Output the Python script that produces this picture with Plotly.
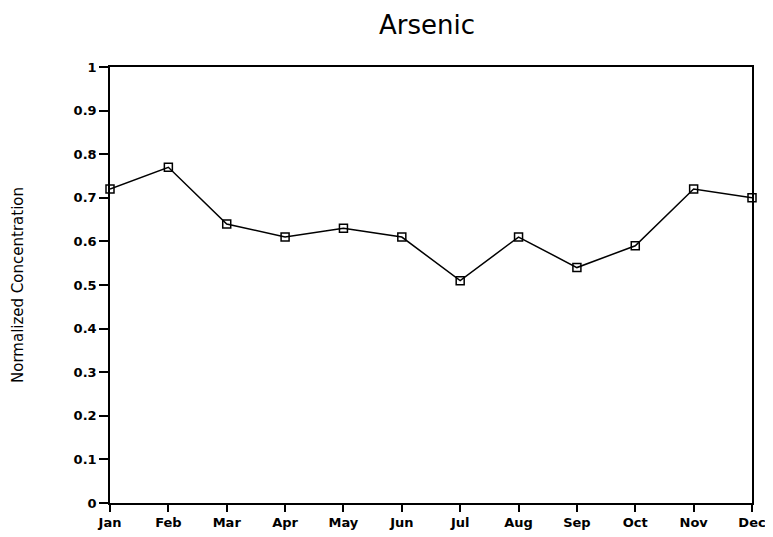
import plotly.graph_objects as go

months = ["Jan", "Feb", "Mar", "Apr", "May", "Jun", "Jul", "Aug", "Sep", "Oct", "Nov", "Dec"]
arsenic = [0.72, 0.77, 0.64, 0.61, 0.63, 0.61, 0.51, 0.61, 0.54, 0.59, 0.72, 0.70]
y_ticks = [0, 0.1, 0.2, 0.3, 0.4, 0.5, 0.6, 0.7, 0.8, 0.9, 1]
y_ticktext = ["0", "0.1", "0.2", "0.3", "0.4", "0.5", "0.6", "0.7", "0.8", "0.9", "1"]

x_idx = list(range(len(months)))

fig = go.Figure()
fig.add_trace(go.Scatter(
    x=x_idx, y=arsenic, mode="lines+markers",
    line=dict(color="black", width=1.5),
    marker=dict(symbol="square-open", size=8, color="black", line=dict(width=1.5)),
    cliponaxis=False, showlegend=False,
))

fig.update_layout(
    width=773, height=537,
    margin=dict(l=102, r=29, t=59, b=42),
    paper_bgcolor="white", plot_bgcolor="white",
    font=dict(family="DejaVu Sans", color="black", size=12),
    title=dict(text="Arsenic", x=0.542, xanchor="center", y=0.968, yanchor="middle",
               font=dict(size=26, family="DejaVu Sans", color="black")),
)
fig.update_xaxes(
    range=[0, 11], tickmode="array", tickvals=x_idx, ticktext=months,
    ticks="outside", ticklen=7, tickcolor="black", tickwidth=1.5,
    showline=True, linecolor="black", linewidth=1.5, mirror=True, automargin=False,
    showgrid=False, zeroline=False, tickfont=dict(size=13, weight="bold"),
)
fig.update_yaxes(
    range=[0, 1], tickmode="array", tickvals=y_ticks, ticktext=y_ticktext,
    ticks="outside", ticklen=9, tickcolor="black", tickwidth=1.5,
    showline=True, linecolor="black", linewidth=1.5, mirror=True, automargin=False,
    showgrid=False, zeroline=False, tickfont=dict(size=13, weight="bold"),
    title=dict(text="Normalized Concentration", font=dict(size=15), standoff=46),
)

fig.write_html("out.html")
